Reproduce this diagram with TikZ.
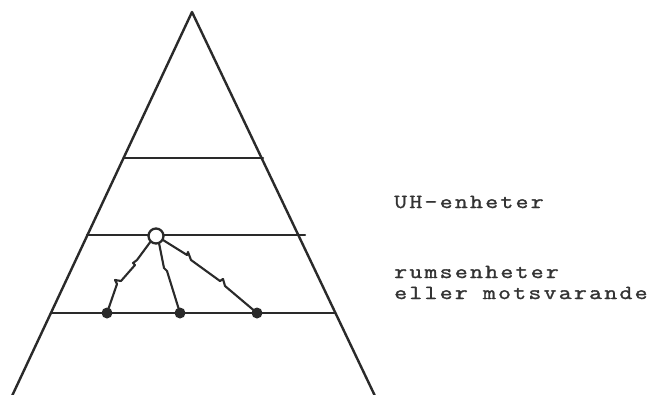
\documentclass[tikz,border=0pt]{standalone}
\usepackage{fontspec}
\definecolor{ink}{HTML}{2A2A2A}
\definecolor{txt}{HTML}{333333}
\newfontfamily\twfam[FakeStretch=1.25,LetterSpace=11.5,FakeBold=1.5]{lmmono12-regular.otf}
\newcommand{\twfont}{\twfam\fontsize{20}{20}\selectfont}
\tikzset{
  edge/.style={draw=ink, line width=2.4pt, line join=round, line cap=round},
  thin/.style={draw=ink, line width=2.1pt, line join=round, line cap=round},
  dot/.style={circle, fill=ink, inner sep=0pt, minimum size=11pt},
  ring/.style={circle, draw=ink, line width=2.3pt, fill=white, inner sep=0pt, minimum size=15pt},
  lbl/.style={anchor=base west, inner sep=0pt, text=txt, font=\twfont}
}
\begin{document}
\begin{tikzpicture}[x=1pt,y=-1pt]
\useasboundingbox[fill=white] (0,0) rectangle (652,394);
% pyramid sides
\coordinate (apex) at (192,12);
\coordinate (bl) at (12,396);
\coordinate (br) at (375,396);
\draw[edge] (bl) -- (apex) -- (br);
% levels
\draw[edge] (124,158) -- (263,158);
\draw[edge] (87,235) -- (305,235);
\draw[edge] (52,313) -- (335,313);
% nodes
\node[dot] (d1) at (107,313) {};
\node[dot] (d2) at (180,313) {};
\node[dot] (d3) at (257,313) {};
% connectors
\draw[thin] (151,241) -- (137,260) -- (133,263) -- (135,265) -- (121,281) -- (115,280) -- (117,284) -- (d1.center);
\draw[thin] (159,243) -- (164,268) -- (167,271) -- (d2.center);
\draw[thin] (163,240) -- (187,255) -- (188,252) -- (191,260) -- (220,281) -- (223,279) -- (225,286) -- (d3.center);
\node[ring] (c) at (156,236) {};
% labels
\node[lbl] (uh) at (394,208) {UH-enheter};
\node[lbl] (rum) at (394,278) {rumsenheter};
\node[lbl] (ell) at (394,299) {eller motsvarande};
\end{tikzpicture}
\end{document}
